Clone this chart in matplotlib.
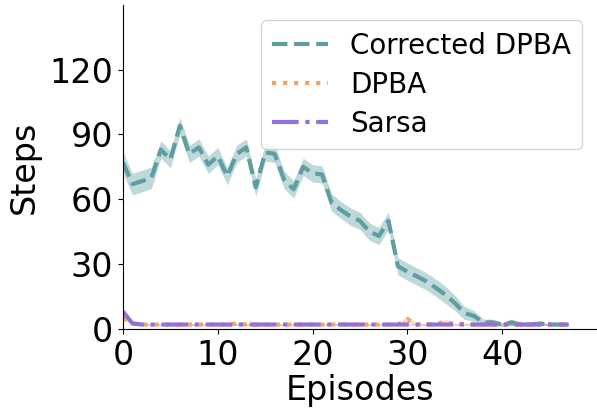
import numpy as np
import matplotlib
matplotlib.use('Agg')
import matplotlib.pyplot as plt

# mean steps per episode
corrected_dpba = [77, 67, 68.4, 70, 83, 78.5, 94, 81, 84, 76,
                  80, 70.7, 81, 84, 65.5, 81.7, 81, 69, 64.6, 75,
                  72, 71.5, 58.5, 55, 52, 50, 45, 43, 50, 29,
                  26.5, 24.3, 22, 19, 15.8, 12, 7.4, 6, 3, 3,
                  2, 3, 2, 2, 2.5, 2, 2, 2]
corrected_std = [5, 5, 5, 5, 4, 4, 4, 4, 4, 4,
                 4, 4, 4, 4, 4, 4, 4, 4, 4, 4,
                 4, 4, 4, 4, 4, 4, 4, 4, 4, 4,
                 4, 4, 4, 4, 4, 3.5, 3, 2.5, 1.5, 1.5,
                 1, 1.5, 0.5, 0.5, 0.5, 0.5, 0.5, 0.5]
dpba = [5, 2.5, 2, 2, 2, 2, 2, 2, 2, 2,
        2, 2, 2.5, 2, 2, 2, 2, 2, 2, 2,
        2, 2, 2, 2, 2, 2, 2, 2, 2, 2,
        4.5, 2, 2, 2, 3.5, 2, 2.5, 2, 2, 2,
        2, 2, 2, 2, 2, 2, 2, 2]
dpba_std = [1] + [0.3] * 29 + [1.5, 0.3, 0.3, 0.3, 1, 0.3] + [0.3] * 12
sarsa = [8, 2.5, 2, 2, 2, 2, 2, 2, 2, 2,
         2, 2, 2, 2, 2, 2, 2, 2, 2, 2,
         2, 2, 2, 2, 2, 2, 2, 2, 2, 2,
         2, 2, 2, 2, 2, 2, 2, 2, 2, 2,
         2, 2, 2, 2, 2, 2, 2, 2]
sarsa_std = [1] + [0.3] * 47

episodes = np.arange(len(corrected_dpba))

fig = plt.figure(figsize=(5.97, 4.08), dpi=100)
ax = fig.add_axes([0.206, 0.194, 0.794, 0.794])

series = [
    ('Corrected DPBA', corrected_dpba, corrected_std, '#5f9ea0', '--'),
    ('DPBA', dpba, dpba_std, '#f4a460', ':'),
    ('Sarsa', sarsa, sarsa_std, '#9370db', '-.'),
]
for name, mean, std, color, ls in series:
    mean = np.array(mean)
    std = np.array(std)
    ax.plot(episodes, mean, color=color, linestyle=ls, linewidth=3, label=name)
    ax.fill_between(episodes, mean - std, mean + std, color=color, alpha=0.4, linewidth=0)

ax.set_xlim(0, 50)
ax.set_ylim(0, 150)
ax.set_xticks([0, 10, 20, 30, 40])
ax.set_yticks([0, 30, 60, 90, 120])
ax.tick_params(labelsize=24)
ax.set_xlabel('Episodes', fontsize=24, labelpad=2)
ax.set_ylabel('Steps', fontsize=24, labelpad=6)
ax.spines['top'].set_visible(False)
ax.spines['right'].set_visible(False)
ax.legend(fontsize=20, loc='upper right', bbox_to_anchor=(0.998, 0.995),
          labelspacing=0.4)

fig.savefig('out.png', dpi=100)
